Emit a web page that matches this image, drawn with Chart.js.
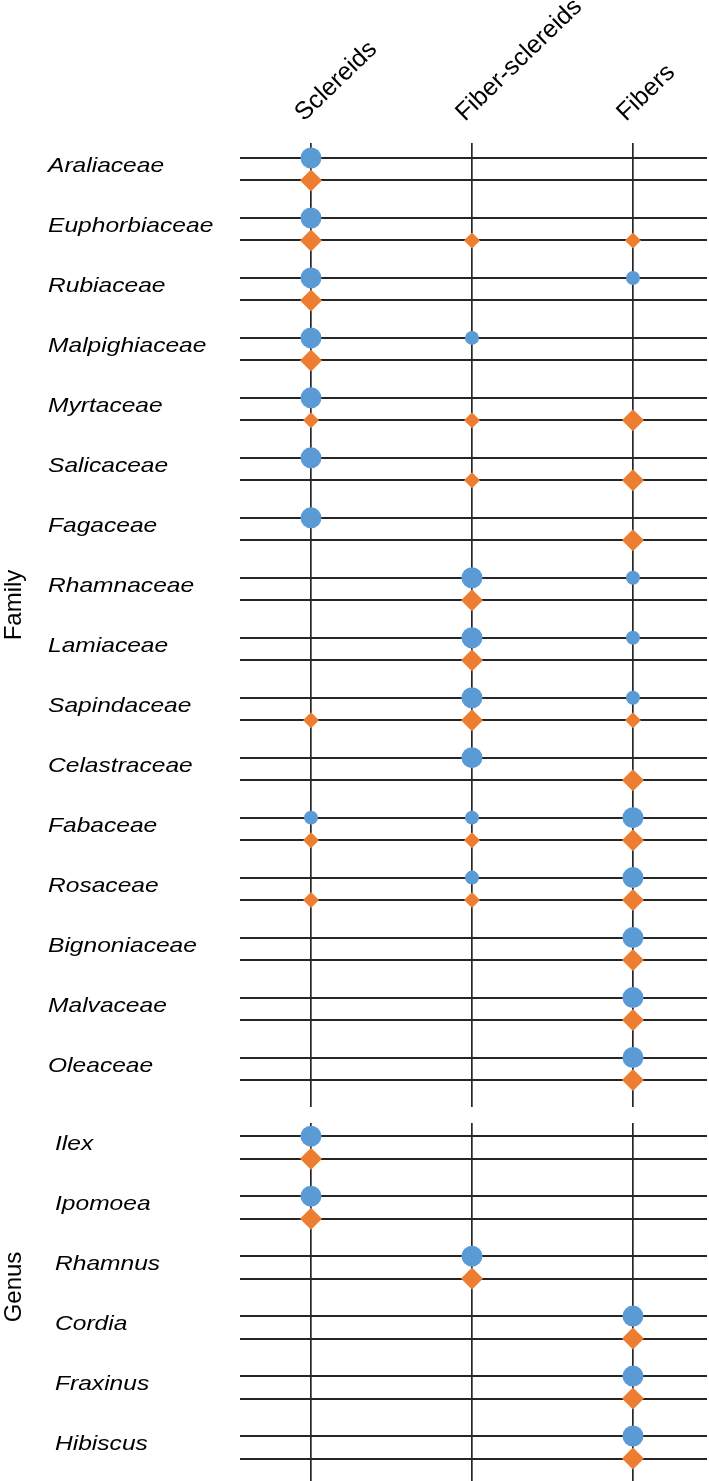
<!DOCTYPE html>
<html>
<head>
<meta charset="utf-8">
<title>Sclerenchyma cell types by family and genus</title>
<script src="https://cdn.jsdelivr.net/npm/chart.js@4.4.1/dist/chart.umd.min.js"></script>
<style>
  html, body { margin: 0; padding: 0; background: #fff; }
  #wrap { position: relative; width: 709px; height: 1481px; overflow: hidden; }
  canvas { position: absolute; left: 0; }
  #familyChart { top: 0; }
  #genusChart { top: 1115px; }
</style>
</head>
<body>
<div id="wrap">
  <canvas id="familyChart" width="709" height="1115"></canvas>
  <canvas id="genusChart" width="709" height="366"></canvas>
</div>
<script>
'use strict';

var cellTypes = ['Sclereids', 'Fiber-sclereids', 'Fibers'];

// scores per cell type: 0 = absent, 1 = minor, 2 = major
var families = ['Araliaceae', 'Euphorbiaceae', 'Rubiaceae', 'Malpighiaceae', 'Myrtaceae',
	'Salicaceae', 'Fagaceae', 'Rhamnaceae', 'Lamiaceae', 'Sapindaceae', 'Celastraceae',
	'Fabaceae', 'Rosaceae', 'Bignoniaceae', 'Malvaceae', 'Oleaceae'];
var familyCircles = [
	[2, 0, 0], [2, 0, 0], [2, 0, 1], [2, 1, 0], [2, 0, 0], [2, 0, 0], [2, 0, 0], [0, 2, 1],
	[0, 2, 1], [0, 2, 1], [0, 2, 0], [1, 1, 2], [0, 1, 2], [0, 0, 2], [0, 0, 2], [0, 0, 2]
];
var familyDiamonds = [
	[2, 0, 0], [2, 1, 1], [2, 0, 0], [2, 0, 0], [1, 1, 2], [0, 1, 2], [0, 0, 2], [0, 2, 0],
	[0, 2, 0], [1, 2, 1], [0, 0, 2], [1, 1, 2], [1, 1, 2], [0, 0, 2], [0, 0, 2], [0, 0, 2]
];

var genera = ['Ilex', 'Ipomoea', 'Rhamnus', 'Cordia', 'Fraxinus', 'Hibiscus'];
var genusCircles = [[2, 0, 0], [2, 0, 0], [0, 2, 0], [0, 0, 2], [0, 0, 2], [0, 0, 2]];
var genusDiamonds = [[2, 0, 0], [2, 0, 0], [0, 2, 0], [0, 0, 2], [0, 0, 2], [0, 0, 2]];

// styling
var ROW_GAP = 0.375;
var LINE_COLOR = '#262626';
var BLUE = '#5B9BD5';
var ORANGE = '#ED7D31';
var circleRadius = [0, 7, 10.5];
var diamondRadius = [0, 8, 11];
var FONT = '"Liberation Sans", Arial, Helvetica, sans-serif';

function buildPoints(scores, offset) {
	var pts = [];
	scores.forEach(function (row, i) {
		row.forEach(function (s, j) {
			if (s > 0) {
				pts.push({ x: j, y: i + offset, size: s });
			}
		});
	});
	return pts;
}

function rowTicks(count) {
	var ticks = [];
	for (var i = 0; i < count; i++) {
		ticks.push({ value: i });
		ticks.push({ value: i + ROW_GAP });
	}
	return ticks;
}

var rowLabels = {
	id: 'rowLabels',
	afterDraw: function (chart, args, opts) {
		var ctx = chart.ctx;
		var ys = chart.scales.y;
		var xs = chart.scales.x;
		var area = chart.chartArea;

		ctx.save();
		ctx.fillStyle = '#000';
		ctx.font = 'italic 21px ' + FONT;
		ctx.textAlign = 'left';
		ctx.textBaseline = 'alphabetic';
		opts.labels.forEach(function (label, i) {
			var yMid = (ys.getPixelForValue(i) + ys.getPixelForValue(i + ROW_GAP)) / 2;
			ctx.save();
			ctx.translate(opts.x, yMid + 3);
			ctx.scale(1.17, 1);
			ctx.fillText(label, 0, 0);
			ctx.restore();
		});

		ctx.font = '24px ' + FONT;
		ctx.textAlign = 'center';
		ctx.textBaseline = 'middle';
		ctx.save();
		ctx.translate(14, (area.top + area.bottom) / 2 + opts.titleShift);
		ctx.rotate(-Math.PI / 2);
		ctx.fillText(opts.title, 0, 0);
		ctx.restore();

		if (opts.headers) {
			ctx.font = '25px ' + FONT;
			ctx.textAlign = 'left';
			ctx.textBaseline = 'alphabetic';
			cellTypes.forEach(function (name, i) {
				ctx.save();
				ctx.translate(xs.getPixelForValue(i) - 7, 122);
				ctx.rotate(-44 * Math.PI / 180);
				ctx.fillText(name, 0, 0);
				ctx.restore();
			});
		}
		ctx.restore();
	}
};

function makeChart(id, labels, circles, diamonds, yMin, yMax, padding, labelOpts) {
	return new Chart(document.getElementById(id), {
		type: 'scatter',
		data: {
			datasets: [{
				data: buildPoints(circles, 0),
				pointStyle: 'circle',
				backgroundColor: BLUE,
				borderWidth: 0,
				pointRadius: function (c) { return c.raw ? circleRadius[c.raw.size] : 0; },
				pointHoverRadius: function (c) { return c.raw ? circleRadius[c.raw.size] : 0; }
			}, {
				data: buildPoints(diamonds, ROW_GAP),
				pointStyle: 'rectRot',
				backgroundColor: ORANGE,
				borderWidth: 0,
				pointRadius: function (c) { return c.raw ? diamondRadius[c.raw.size] : 0; },
				pointHoverRadius: function (c) { return c.raw ? diamondRadius[c.raw.size] : 0; }
			}]
		},
		options: {
			responsive: false,
			animation: false,
			events: [],
			layout: { padding: padding, autoPadding: false },
			plugins: {
				legend: { display: false },
				tooltip: { enabled: false },
				rowLabels: labelOpts
			},
			scales: {
				x: {
					type: 'linear',
					min: -0.441,
					max: 2.46,
					afterBuildTicks: function (s) {
						s.ticks = cellTypes.map(function (c, i) { return { value: i }; });
					},
					afterFit: function (s) { s.height = 0; },
					ticks: { display: false },
					border: { display: false },
					grid: { color: LINE_COLOR, lineWidth: 1.7, drawTicks: false }
				},
				y: {
					type: 'linear',
					reverse: true,
					min: yMin,
					max: yMax,
					afterBuildTicks: function (s) { s.ticks = rowTicks(labels.length); },
					afterFit: function (s) { s.width = 0; },
					ticks: { display: false },
					border: { display: false },
					grid: { color: LINE_COLOR, lineWidth: 2, drawTicks: false }
				}
			}
		},
		plugins: [rowLabels]
	});
}

makeChart('familyChart', families, familyCircles, familyDiamonds, -0.25, 15.825,
	{ left: 240, top: 143, right: 2, bottom: 8 },
	{ labels: families, x: 48, title: 'Family', titleShift: -20, headers: true });

makeChart('genusChart', genera, genusCircles, genusDiamonds, -0.22, 5.75,
	{ left: 240, top: 8, right: 2, bottom: 0 },
	{ labels: genera, x: 55, title: 'Genus', titleShift: -15, headers: false });
</script>
</body>
</html>
